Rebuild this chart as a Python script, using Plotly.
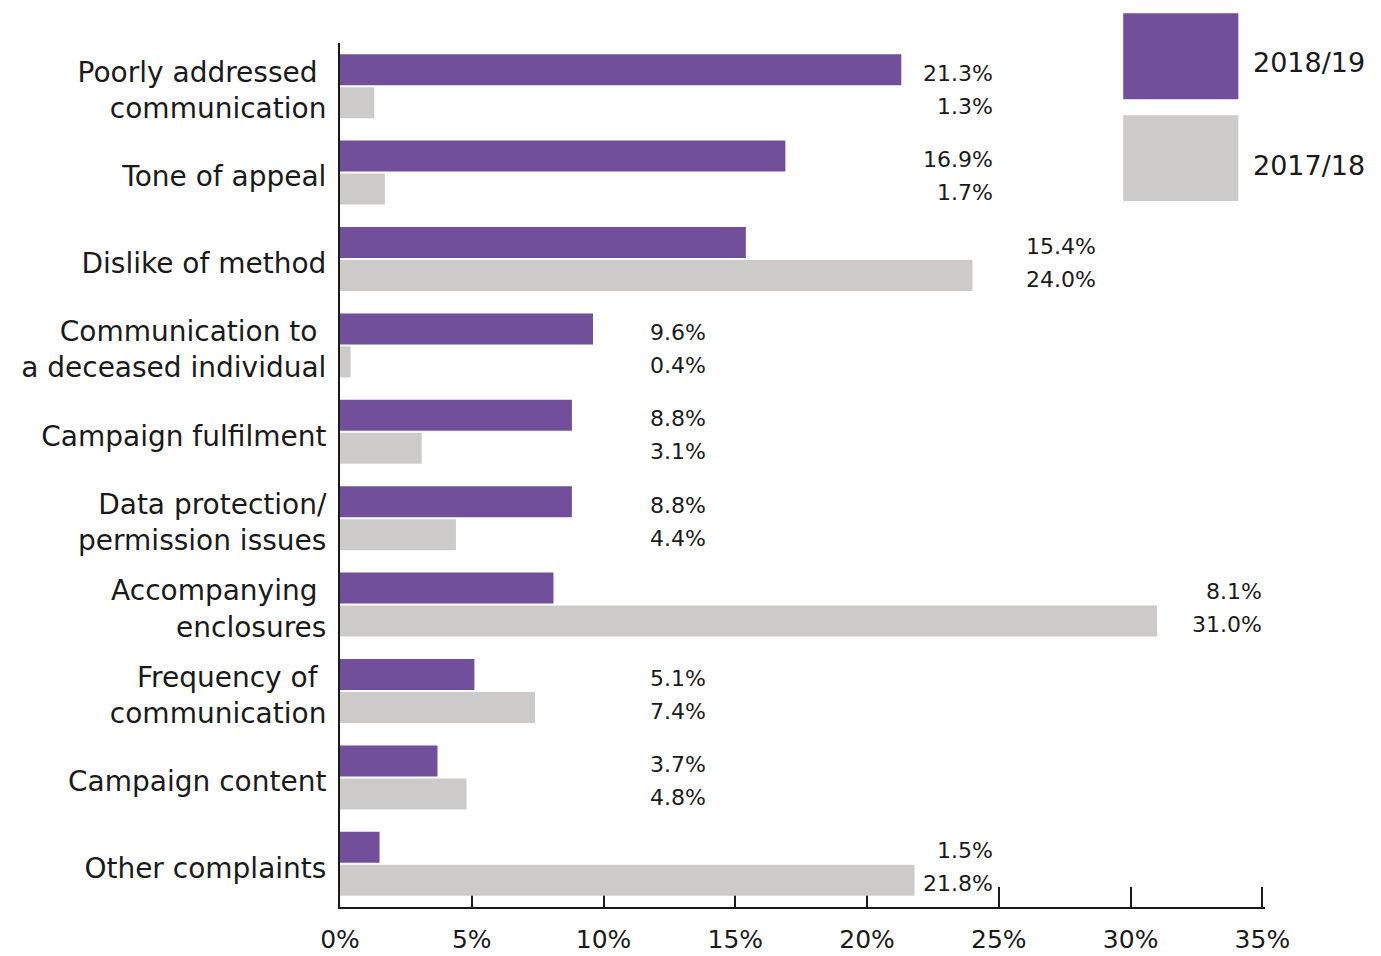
import plotly.graph_objects as go

# Complaint categories, top to bottom
categories = [
    "Poorly addressed\u00a0<br>communication",
    "Tone of appeal",
    "Dislike of method",
    "Communication to\u00a0<br>a deceased individual",
    "Campaign fulfilment",
    "Data protection/<br>permission issues",
    "Accompanying\u00a0<br>enclosures",
    "Frequency of\u00a0<br>communication",
    "Campaign content",
    "Other complaints",
]

# Share of complaints (%)
values_2018_19 = [21.3, 16.9, 15.4, 9.6, 8.8, 8.8, 8.1, 5.1, 3.7, 1.5]
values_2017_18 = [1.3, 1.7, 24.0, 0.4, 3.1, 4.4, 31.0, 7.4, 4.8, 21.8]

series_names = ["2018/19", "2017/18"]
x_ticks = [0, 5, 10, 15, 20, 25, 30, 35]
x_tick_labels = ["0%", "5%", "10%", "15%", "20%", "25%", "30%", "35%"]

PURPLE = "#714F9A"
GREY = "#CCCBC9"
INK = "#1a1a1a"
FONT = "DejaVu Sans"

fig = go.Figure()
fig.add_trace(go.Bar(y=categories, x=values_2018_19, orientation="h",
                     name=series_names[0], marker=dict(color=PURPLE, line=dict(width=0)),
                     showlegend=False, hoverinfo="skip"))
fig.add_trace(go.Bar(y=categories, x=values_2017_18, orientation="h",
                     name=series_names[1], marker=dict(color=GREY, line=dict(width=0)),
                     showlegend=False, hoverinfo="skip"))

# Right edge (axis units) of the value-label column for each category
label_anchor = [24.85, 24.85, 28.75, 13.97, 13.97, 13.97, 35.07, 13.97, 13.97, 24.85]

annotations = []
for cat, a, b, xr in zip(categories, values_2018_19, values_2017_18, label_anchor):
    for val, shift in ((a, 13), (b, -20)):
        annotations.append(dict(
            x=xr, y=cat, xref="x", yref="y", text=f"{val:.1f}%",
            showarrow=False, xanchor="right", yanchor="middle", yshift=shift,
            font=dict(family=FONT, size=22, color=INK),
        ))

# Legend built from large colour blocks with labels beside them
shapes = []
legend_blocks = [(PURPLE, 1.0345, 0.935, 0.9778), (GREY, 0.9165, 0.817, 0.8585)]
for (color, y1, y0, ytxt), name in zip(legend_blocks, series_names):
    shapes.append(dict(type="rect", xref="x", yref="paper", x0=29.72, x1=34.09,
                       y0=y0, y1=y1, fillcolor=color, line=dict(width=0), layer="above"))
    annotations.append(dict(x=34.56, y=ytxt, xref="x", yref="paper", text=name,
                            showarrow=False, xanchor="left", yanchor="middle",
                            font=dict(family=FONT, size=27, color=INK)))

fig.update_layout(
    width=1381, height=956,
    margin=dict(l=340, r=116, t=43, b=49, autoexpand=False),
    paper_bgcolor="white", plot_bgcolor="white",
    barmode="group", bargap=0.236, bargroupgap=0.06,
    font=dict(family=FONT, color=INK),
    annotations=annotations, shapes=shapes,
    xaxis=dict(range=[0, 35.1], tickvals=x_ticks, ticktext=x_tick_labels,
               showgrid=False, zeroline=False, showline=True, linecolor=INK,
               linewidth=2, ticks="inside", ticklen=20, tickwidth=2, tickcolor=INK,
               ticklabelstandoff=9, tickfont=dict(family=FONT, size=25, color=INK),
               layer="below traces", fixedrange=True, automargin=False),
    yaxis=dict(autorange="reversed", showgrid=False, zeroline=False, showline=True,
               linecolor=INK, linewidth=2, ticks="", ticklabelstandoff=6,
               ticklabelshift=-4,
               tickfont=dict(family=FONT, size=28, color=INK),
               layer="below traces", fixedrange=True, automargin=False),
)

fig.write_html("out.html")
